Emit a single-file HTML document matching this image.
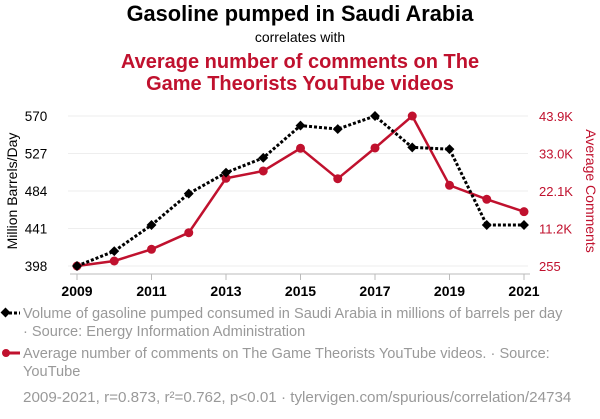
<!DOCTYPE html>
<html><head><meta charset="utf-8">
<style>
body{margin:0;background:#fff;font-family:"Liberation Sans",sans-serif;}
svg text{font-family:"Liberation Sans",sans-serif;}
</style></head>
<body>
<svg id="c" width="600" height="414" viewBox="0 0 600 414">
<text x="300" y="21" text-anchor="middle" font-size="21.8" font-weight="bold" fill="#000">Gasoline pumped in Saudi Arabia</text>
<text x="300" y="42" text-anchor="middle" font-size="14" fill="#000">correlates with</text>
<text x="300" y="68" text-anchor="middle" font-size="20" font-weight="bold" fill="#c0112e">Average number of comments on The</text>
<text x="300" y="90" text-anchor="middle" font-size="20" font-weight="bold" fill="#c0112e">Game Theorists YouTube videos</text>
<text transform="translate(17,191) rotate(-90)" text-anchor="middle" font-size="14" fill="#000">Million Barrels/Day</text>
<text transform="translate(586,191) rotate(90)" text-anchor="middle" font-size="14" fill="#c0112e">Average Comments</text>
<g id="grid"></g><g id="axes"></g><g id="series"></g>
<line x1="4" y1="313" x2="20" y2="313" stroke="#000" stroke-width="3" stroke-dasharray="3,2"/>
<rect x="2" y="309" width="7" height="7" transform="rotate(45 5.5 312.5)" fill="#000"/>
<text x="23" y="318" font-size="14.6" fill="#999">Volume of gasoline pumped consumed in Saudi Arabia in millions of barrels per day</text>
<text x="23" y="336" font-size="14.6" fill="#999">· Source: Energy Information Administration</text>
<line x1="4" y1="353" x2="20" y2="353" stroke="#c0112e" stroke-width="3"/>
<circle cx="6" cy="353" r="4" fill="#c0112e"/>
<text x="23" y="358" font-size="14.6" fill="#999">Average number of comments on The Game Theorists YouTube videos. · Source:</text>
<text x="23" y="376" font-size="14.6" fill="#999">YouTube</text>
<text x="23" y="402" font-size="15.2" fill="#999">2009-2021, r=0.873, r²=0.762, p&lt;0.01 · tylervigen.com/spurious/correlation/24734</text>
</svg>
<script>
const years=[2009,2010,2011,2012,2013,2014,2015,2016,2017,2018,2019,2020,2021];
const gasoline=[398,415,445,481,505,522,559,555,570,534,532,445,445];
const comments=[255,1710,5115,9945,25775,27900,34505,25660,34593,43900,23740,19665,16060];
const leftTicks=[398,441,484,527,570];
const rightTicks=[255,11170,22080,32990,43900];
const rightLabels=["255","11.2K","22.1K","33.0K","43.9K"];
const xTicks=[2009,2011,2013,2015,2017,2019,2021];
const NS="http://www.w3.org/2000/svg";
const X=y=>77+(y-2009)*(524-77)/12;
const YL=v=>266-(v-398)*150/172;
const YR=v=>266-(v-255)*150/(43900-255);
function mk(t,a,p){const e=document.createElementNS(NS,t);for(const k in a)e.setAttribute(k,a[k]);p.appendChild(e);return e;}
const grid=document.getElementById('grid'),axes=document.getElementById('axes'),ser=document.getElementById('series');
leftTicks.forEach((v,i)=>{
 const l=mk('line',{x1:68,x2:528,y1:YL(v),y2:YL(v),stroke:'#eee','stroke-width':1},grid);
 
 
 const t=mk('text',{x:36,y:YL(v)+5,'font-size':13.5,fill:'#000','text-anchor':'middle'},axes);t.textContent=v;
 
 
});
rightTicks.forEach((v,i)=>{
 const t=mk('text',{x:539,y:YR(v)+5,'font-size':13,fill:'#c0112e'},axes);t.textContent=rightLabels[i];
 
 
});
const xa=mk('line',{x1:70,x2:530,y1:274,y2:274,stroke:'#bbb'},axes);


xTicks.forEach(y=>{
 const tk=mk('line',{x1:X(y),x2:X(y),y1:274,y2:280,stroke:'#bbb'},axes);
 
 
 const t=mk('text',{x:X(y),y:296,'font-size':14,'font-weight':'bold','text-anchor':'middle',fill:'#000'},axes);t.textContent=y;
 
 
});
const rl=mk('polyline',{points:years.map((y,i)=>X(y)+','+YR(comments[i])).join(' '),fill:'none',stroke:'#c0112e','stroke-width':2.5},ser);


years.forEach((y,i)=>{const c=mk('circle',{cx:X(y),cy:YR(comments[i]),r:4.5,fill:'#c0112e'},ser);
 
 });
const bl=mk('polyline',{points:years.map((y,i)=>X(y)+','+YL(gasoline[i])).join(' '),fill:'none',stroke:'#000','stroke-width':3,'stroke-dasharray':'3,2'},ser);


years.forEach((y,i)=>{const cx=X(y),cy=YL(gasoline[i]);
 const d=mk('rect',{x:cx-3.5,y:cy-3.5,width:7,height:7,fill:'#000',transform:`rotate(45 ${cx} ${cy})`},ser);
 
 });
</script>
</body></html>
